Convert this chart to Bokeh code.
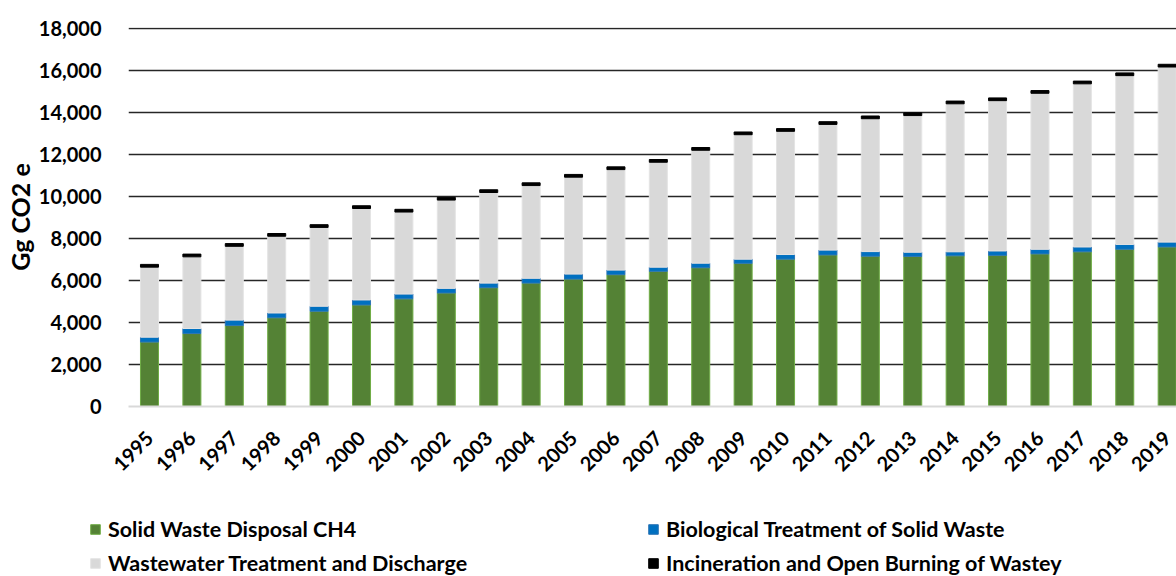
from bokeh.plotting import figure
from bokeh.models import (Range1d, FixedTicker, NumeralTickFormatter, Legend, LegendItem,
                          ColumnDataSource)
from bokeh.layouts import column
from bokeh.embed import file_html
from bokeh.resources import INLINE
import math

years = list(range(1995, 2020))
year_labels = [str(y) for y in years]

solid_waste = [3065, 3470, 3850, 4220, 4530, 4830, 5120, 5400, 5650, 5870, 6060, 6270, 6430,
               6600, 6810, 7010, 7210, 7150, 7140, 7170, 7190, 7260, 7360, 7480, 7590]
biological = [235, 240, 260, 230, 240, 240, 230, 220, 220, 230, 240, 220, 200,
              220, 200, 220, 230, 220, 200, 190, 210, 220, 230, 230, 230]
wastewater = [3330, 3410, 3510, 3650, 3750, 4350, 3900, 4200, 4310, 4410, 4610, 4780, 4990,
              5370, 5920, 5860, 5980, 6320, 6500, 7040, 7150, 7420, 7760, 8030, 8330]
incineration = [130] * 25

series = ["solid", "bio", "waste", "incin"]
series_labels = ["Solid Waste Disposal CH4", "Biological Treatment of Solid Waste",
                 "Wastewater Treatment and Discharge", "Incineration and Open Burning of Wastey"]
colors = ["#548235", "#0070C0", "#D9D9D9", "#000000"]
edge_colors = ["#70AD47", "#2E75B6", "#E4E4E4", "#000000"]
y_ticks = list(range(0, 18001, 2000))

src = ColumnDataSource(dict(year=years, solid=solid_waste, bio=biological,
                            waste=wastewater, incin=incineration))

FONT = "Lato"

p = figure(width=1176, height=480, output_backend="svg", toolbar_location=None,
           x_range=Range1d(1994.505, 2019.22), y_range=Range1d(0, 18030),
           min_border_left=128, min_border_right=0, min_border_top=27,
           min_border_bottom=73)
p.outline_line_color = None
p.frame_align = False

renderers = p.vbar_stack(series, x="year", width=0.425, source=src,
                         fill_color=colors, line_color=edge_colors, line_width=1)

# y axis
p.yaxis.ticker = FixedTicker(ticks=y_ticks)
p.yaxis.formatter = NumeralTickFormatter(format="0,0")
p.yaxis.axis_line_color = None
p.yaxis.major_tick_line_color = None
p.yaxis.minor_tick_line_color = None
p.yaxis.major_label_standoff = 21
p.yaxis.major_label_text_font = FONT
p.yaxis.major_label_text_font_style = "bold"
p.yaxis.major_label_text_font_size = "20px"
p.yaxis.major_label_text_color = "#000000"
p.yaxis.axis_label = "Gg CO2 e"
p.yaxis.axis_label_text_font = FONT
p.yaxis.axis_label_text_font_style = "bold"
p.yaxis.axis_label_text_font_size = "25px"
p.yaxis.axis_label_text_color = "#000000"
p.yaxis.axis_label_standoff = 1

# x axis
p.xaxis.ticker = FixedTicker(ticks=years)
p.xaxis.major_label_overrides = {y: l for y, l in zip(years, year_labels)}
p.xaxis.axis_line_color = "#D9D9D9"
p.xaxis.axis_line_width = 2
p.xaxis.major_tick_line_color = None
p.xaxis.minor_tick_line_color = None
p.xaxis.major_label_orientation = math.pi / 4
p.xaxis.major_label_standoff = 22
p.xaxis.major_label_text_font = FONT
p.xaxis.major_label_text_font_style = "bold"
p.xaxis.major_label_text_font_size = "20px"
p.xaxis.major_label_text_color = "#000000"

# grid
p.xgrid.grid_line_color = None
p.ygrid.ticker = FixedTicker(ticks=y_ticks[1:])
p.ygrid.grid_line_color = "#262626"
p.ygrid.grid_line_width = 1.5

# legend panel below the chart (its own frame starts at the page's left edge)
lg = figure(width=1176, height=96, output_backend="svg", toolbar_location=None,
            x_range=Range1d(0, 1), y_range=Range1d(0, 1),
            min_border_left=0, min_border_right=0, min_border_top=0, min_border_bottom=0,
            x_axis_location=None, y_axis_location=None)
lg.outline_line_color = None
lg.frame_align = False
lg.xgrid.grid_line_color = None
lg.ygrid.grid_line_color = None

swatches = [lg.vbar(x=[0.5], bottom=[0], top=[1], width=0.1, fill_color=c, line_color=e,
                    line_width=1, visible=False)
            for c, e in zip(colors, edge_colors)]

positions = [(89, 34), (647, 34), (89, 0), (647, 0)]
for r, lab, pos in zip(swatches, series_labels, positions):
    leg = Legend(items=[LegendItem(label=lab, renderers=[r])], location=pos,
                 padding=0, margin=0, border_line_color=None, background_fill_alpha=0,
                 inactive_fill_alpha=0,
                 glyph_width=12, glyph_height=12, label_standoff=7, label_height=22,
                 label_text_font=FONT, label_text_font_style="bold",
                 label_text_font_size="21.5px", label_text_color="#000000")
    lg.add_layout(leg)

open("out.html", "w").write(file_html(column(p, lg), INLINE))
